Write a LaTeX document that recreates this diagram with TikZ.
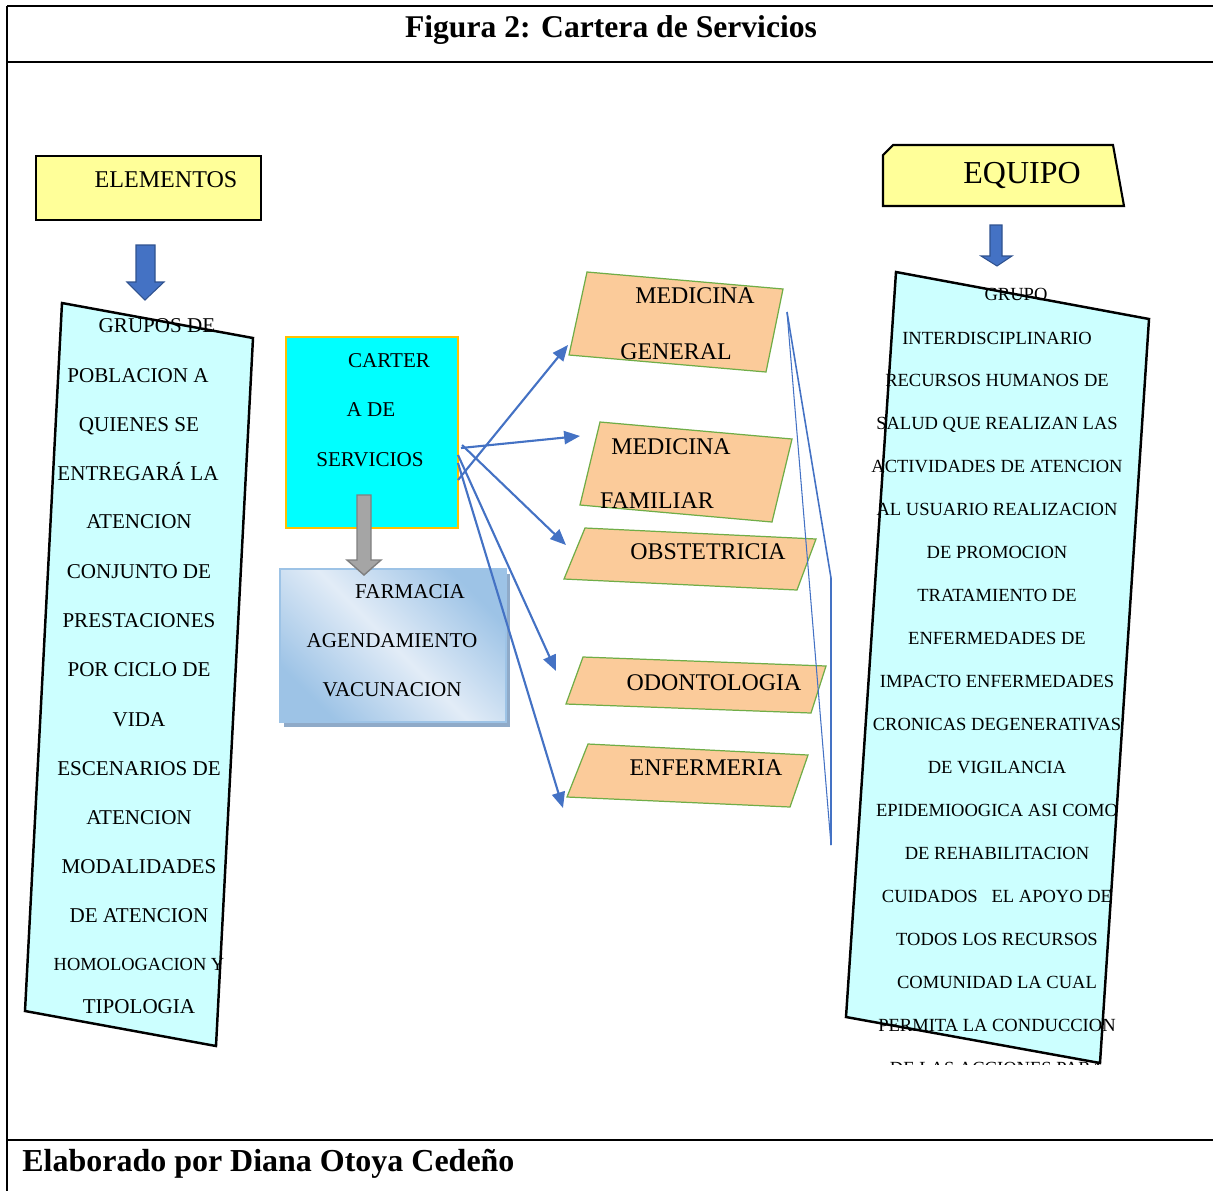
\documentclass[tikz,border=0pt]{standalone}
\usepackage{fontspec}
\setmainfont{Liberation Serif}
\usetikzlibrary{arrows.meta}
\definecolor{amarillo}{HTML}{FFFF99}
\definecolor{celeste}{HTML}{CCFFFF}
\definecolor{turquesa}{HTML}{00FFFF}
\definecolor{naranja}{HTML}{FBCB9A}
\definecolor{verde}{HTML}{70AD47}
\definecolor{azul}{HTML}{4472C4}
\definecolor{azulosc}{HTML}{2F528F}
\definecolor{oro}{HTML}{FFC000}
\definecolor{gris}{HTML}{A5A5A5}
\definecolor{grisosc}{HTML}{7F7F7F}
\definecolor{bordeazul}{HTML}{9DC3E6}
\definecolor{claro}{HTML}{E2ECF7}
\definecolor{sombra}{HTML}{8FAAC8}

\begin{document}
\begin{tikzpicture}
  [x=0.02cm,y=-0.02cm,
   every node/.style={inner sep=0pt,text depth=0pt,text height=1.48ex},
   izq/.style={font=\fontsize{12}{14}\selectfont},
   der/.style={font=\fontsize{10.55}{12}\selectfont},
   servicio/.style={font=\fontsize{13.6}{16}\selectfont},
   caja/.style={font=\fontsize{12}{14}\selectfont},
   parcela/.style={fill=naranja,draw=verde,line width=0.7pt},
   flecha/.style={azul,line width=1.2pt,-{Triangle[length=9pt,width=7.5pt]}},
   bloque/.style={fill=azul,draw=azulosc,line width=0.6pt},
   marco/.style={line width=1.2pt}]
  \useasboundingbox (0,0) rectangle (1213,1191);

  % frame of the figure
  \draw[marco] (7,6) -- (1213,6);
  \draw[marco] (7,62) -- (1213,62);
  \draw[marco] (7,1140) -- (1213,1140);
  \draw[marco] (7,6) -- (7,1191);
  \node[font=\bfseries\fontsize{18}{21}\selectfont] (titulo) at (611,32) {Figura 2: Cartera de Servicios};
  \node[anchor=west,font=\bfseries\fontsize{18.2}{21}\selectfont] (autor) at (22,1166) {Elaborado por Diana Otoya Cedeño};

  % left column
  \filldraw[fill=amarillo,line width=1.2pt] (36,156) rectangle (261,220);
  \node[font=\fontsize{13.7}{16}\selectfont] (elementos) at (166,182) {ELEMENTOS};
  \filldraw[bloque] (136,245) -- (155,245) -- (155,282) -- (164,282) -- (145,300)
    -- (127,282) -- (136,282) -- cycle;
  \filldraw[fill=celeste,line width=1.4pt] (62,303) -- (253,338) -- (216,1046) -- (25,1011) -- cycle;
  \foreach \x/\y/\t in {157/327/GRUPOS DE, 138/377/POBLACION A, 139/426/QUIENES SE,
      138/475/ENTREGARÁ LA, 139/523/ATENCION, 139/573/CONJUNTO DE,
      139/622/PRESTACIONES, 139/671/POR CICLO DE, 139/721/VIDA,
      139/770/ESCENARIOS DE, 139/819/ATENCION, 139/868/MODALIDADES,
      139/917/DE ATENCION, 139/1008/TIPOLOGIA}
    \node[izq] at (\x,\y) {\t};
  \node[font=\fontsize{10.5}{12}\selectfont] (homologacion) at (139,965) {HOMOLOGACION Y};

  % centre
  \filldraw[fill=turquesa,draw=oro,line width=0.7pt] (286,337) rectangle (458,528);
  \node[caja] (c1) at (389,362) {CARTER};
  \node[caja] (c2) at (371,411) {A DE};
  \node[caja] (c3) at (370,461) {SERVICIOS};
  \fill[sombra] (284,574) rectangle (510,727);
  \shade[top color=bordeazul,bottom color=bordeazul,middle color=claro,shading angle=-45]
    (280,569) rectangle (506,722);
  \draw[bordeazul,line width=1pt] (280,569) rectangle (506,722);
  \filldraw[fill=gris,draw=grisosc,line width=0.8pt] (357,495) -- (371,495) -- (371,560) -- (381,560)
    -- (364,575) -- (347,560) -- (357,560) -- cycle;
  \node[caja] (farmacia) at (410,593) {FARMACIA};
  \node[caja] (agenda) at (392,642) {AGENDAMIENTO};
  \node[caja] (vacuna) at (392,691) {VACUNACION};

  % services
  \filldraw[parcela] (587,272) -- (783,289) -- (766,372) -- (569,355) -- cycle;
  \filldraw[parcela] (600,422) -- (792,439) -- (772,522) -- (580,505) -- cycle;
  \filldraw[parcela] (585,528) -- (816,539) -- (797,590) -- (564,579) -- cycle;
  \filldraw[parcela] (583,657) -- (826,666) -- (811,713) -- (566,704) -- cycle;
  \filldraw[parcela] (588,744) -- (808,755) -- (790,807) -- (567,797) -- cycle;
  \node[servicio] (mg1) at (695,298) {MEDICINA};
  \node[servicio] (mg2) at (676,354) {GENERAL};
  \node[servicio] (mf1) at (671,449) {MEDICINA};
  \node[servicio] (mf2) at (657,503) {FAMILIAR};
  \node[servicio] (obs) at (708,554) {OBSTETRICIA};
  \node[servicio] (odo) at (714,685) {ODONTOLOGIA};
  \node[servicio] (enf) at (706,770) {ENFERMERIA};

  \coordinate (s1) at (458,480);
  \coordinate (s2) at (461,448);
  \coordinate (s3) at (462,445);
  \coordinate (s4) at (458,455);
  \coordinate (s5) at (458,463);
  \coordinate (t1) at (568,345);
  \coordinate (t2) at (580,436);
  \coordinate (t3) at (566,545);
  \coordinate (t4) at (556,671);
  \coordinate (t5) at (563,808);
  \foreach \from/\to in {s1/t1,s2/t2,s3/t3,s4/t4,s5/t5}
    \draw[flecha] (\from) -- (\to);

  \coordinate (v1) at (787,312);
  \coordinate (v2) at (831,578);
  \coordinate (v3) at (831,845);
  \draw[azul,line width=0.9pt] (v1) -- (v2) -- (v3);
  \draw[azul,line width=0.6pt] (v1) -- (v3);

  % right column
  \filldraw[fill=amarillo,line width=1.2pt] (883,155) -- (893,145) -- (1113,145) -- (1124,206)
    -- (883,206) -- cycle;
  \node[font=\fontsize{18.2}{21}\selectfont] (equipo) at (1022,178) {EQUIPO};
  \filldraw[bloque] (990,225) -- (1002,225) -- (1002,256) -- (1012,256) -- (997,266)
    -- (981,256) -- (990,256) -- cycle;
  \filldraw[fill=celeste,line width=1.4pt] (896,272) -- (1149,319) -- (1100,1063) -- (846,1017) -- cycle;
  \foreach \x/\y/\t in {1016/295/GRUPO, 997/339/INTERDISCIPLINARIO,
      997/381/RECURSOS HUMANOS DE, 997/424/SALUD QUE REALIZAN LAS,
      997/467/ACTIVIDADES DE ATENCION, 997/510/AL USUARIO REALIZACION,
      997/553/DE PROMOCION, 997/596/TRATAMIENTO DE, 997/639/ENFERMEDADES DE,
      997/682/IMPACTO ENFERMEDADES, 997/725/CRONICAS DEGENERATIVAS,
      997/768/DE VIGILANCIA, 997/811/EPIDEMIOOGICA ASI COMO,
      997/854/DE REHABILITACION, 997/897/CUIDADOS \ \ EL APOYO DE,
      997/940/TODOS LOS RECURSOS, 997/983/COMUNIDAD LA CUAL,
      997/1026/PERMITA LA CONDUCCION}
    \node[der] at (\x,\y) {\t};
  \begin{scope}
    \clip (840,1040) rectangle (1160,1064);
    \node[der] (ultima) at (997,1069) {DE LAS ACCIONES PARA};
  \end{scope}
\end{tikzpicture}
\end{document}
